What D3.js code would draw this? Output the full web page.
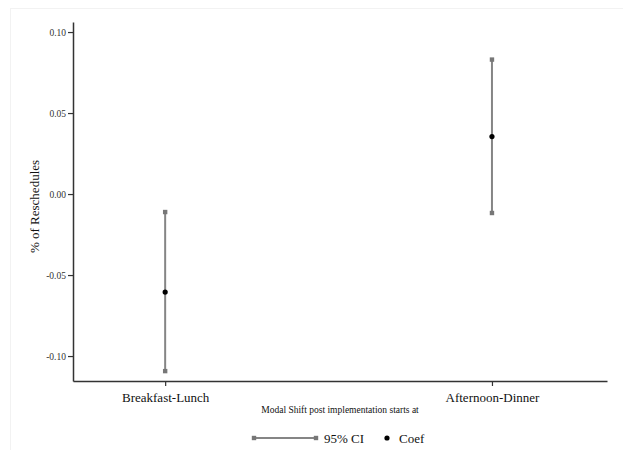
<!DOCTYPE html>
<html>
<head>
<meta charset="utf-8">
<script src="https://cdn.jsdelivr.net/npm/d3@7"></script>
<style>
  html, body { margin: 0; padding: 0; background: #fff; }
  svg, svg text { font-family: "Liberation Serif", "Times New Roman", serif !important; }
  svg { display: block; }
</style>
</head>
<body>
<svg id="chart" width="623" height="450"></svg>
<script>
// Estimated effects by meal window, with 95% confidence intervals
const categories = ["Breakfast-Lunch", "Afternoon-Dinner"];
const coef = [-0.0605, 0.0355];
const ciLow = [-0.1093, -0.0117];
const ciHigh = [-0.0111, 0.0830];
const yTicks = [-0.10, -0.05, 0.00, 0.05, 0.10];

const svg = d3.select("#chart");
const W = 623, H = 450;
const m = { left: 73, right: 16, top: 22, bottom: 69 };
const serif = '"Liberation Serif", "Times New Roman", serif';

// faint outer graph-region border
svg.append("rect")
  .attr("x", 10.5).attr("y", 8.5)
  .attr("width", W).attr("height", H)
  .attr("fill", "#fff").attr("stroke", "#f2f2f2");

const x = d3.scaleLinear().domain([0.718, 2.352]).range([m.left, W - m.right]);
const y = d3.scaleLinear().domain([-0.1154, 0.1062]).range([H - m.bottom, m.top]);

const data = categories.map((c, i) => ({ c, pos: i + 1, b: coef[i], lo: ciLow[i], hi: ciHigh[i] }));

// tick labels with a plain hyphen for negatives
const fmt = d => d3.format(".2f")(d).replace("\u2212", "-");

// y axis
const yAxis = svg.append("g")
  .attr("transform", `translate(${m.left},0)`)
  .call(d3.axisLeft(y).tickValues(yTicks).tickFormat(fmt).tickSize(5).tickSizeOuter(0));
yAxis.attr("font-family", null);
yAxis.select(".domain").attr("stroke", "#333").attr("stroke-width", 1.5);
yAxis.selectAll(".tick line").attr("stroke", "#333").attr("stroke-width", 1.2);
yAxis.selectAll(".tick text")
  .style("font-family", serif)
  .attr("font-size", 9.5).attr("fill", "#333").attr("x", -7);

// x axis
const xAxis = svg.append("g")
  .attr("transform", `translate(0,${H - m.bottom})`)
  .call(d3.axisBottom(x).tickValues(data.map(d => d.pos))
    .tickFormat((d, i) => categories[i]).tickSize(5).tickSizeOuter(0));
xAxis.attr("font-family", null);
xAxis.select(".domain").attr("stroke", "#333").attr("stroke-width", 1.5);
xAxis.selectAll(".tick line").attr("stroke", "#333").attr("stroke-width", 1.2);
xAxis.selectAll(".tick text")
  .style("font-family", serif)
  .attr("font-size", 13).attr("fill", "#111").attr("y", 12);

// axis titles
svg.append("text")
  .attr("transform", `translate(39,${(m.top + H - m.bottom) / 2 + 5}) rotate(-90)`)
  .attr("text-anchor", "middle").attr("font-size", 13).attr("fill", "#111")
  .style("font-family", serif)
  .text("% of Reschedules");
svg.append("text")
  .attr("x", (m.left + W - m.right) / 2).attr("y", 413)
  .attr("text-anchor", "middle").attr("font-size", 9.5).attr("fill", "#111")
  .style("font-family", serif)
  .text("Modal Shift post implementation starts at");

// confidence interval spikes
const ciColor = "#858585";
svg.append("g").selectAll("line").data(data).join("line")
  .attr("x1", d => x(d.pos)).attr("x2", d => x(d.pos))
  .attr("y1", d => y(d.lo)).attr("y2", d => y(d.hi))
  .attr("stroke", ciColor).attr("stroke-width", 2);
const caps = data.flatMap(d => [{ pos: d.pos, v: d.lo }, { pos: d.pos, v: d.hi }]);
svg.append("g").selectAll("rect").data(caps).join("rect")
  .attr("x", d => x(d.pos) - 2.2).attr("y", d => y(d.v) - 2.2)
  .attr("width", 4.4).attr("height", 4.4).attr("fill", "#777");

// point estimates
svg.append("g").selectAll("circle").data(data).join("circle")
  .attr("cx", d => x(d.pos)).attr("cy", d => y(d.b))
  .attr("r", 2.6).attr("fill", "#000");

// legend
const lg = svg.append("g").attr("transform", "translate(254,438)");
lg.append("line").attr("x1", 0).attr("x2", 62).attr("y1", 0).attr("y2", 0)
  .attr("stroke", ciColor).attr("stroke-width", 2);
lg.selectAll("rect.cap").data([0, 62]).join("rect").attr("class", "cap")
  .attr("x", d => d - 2.2).attr("y", -2.2).attr("width", 4.4).attr("height", 4.4).attr("fill", "#777");
lg.append("text").attr("x", 70).attr("y", 4.5).attr("font-size", 13).attr("fill", "#111")
  .style("font-family", serif).text("95% CI");
lg.append("circle").attr("cx", 133).attr("cy", 0).attr("r", 2.6).attr("fill", "#000");
lg.append("text").attr("x", 145).attr("y", 4.5).attr("font-size", 13).attr("fill", "#111")
  .style("font-family", serif).text("Coef");
</script>
</body>
</html>
